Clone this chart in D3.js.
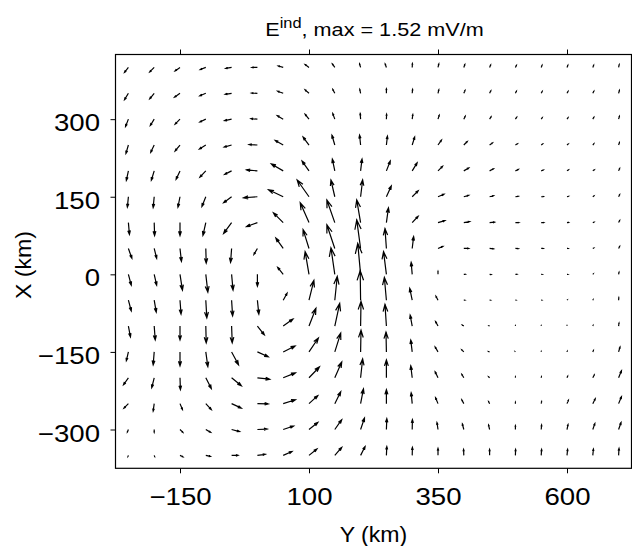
<!DOCTYPE html>
<html>
<head>
<meta charset="utf-8">
<script src="https://cdn.jsdelivr.net/npm/d3@7"></script>
<style>
  body { margin: 0; background: #fff; }
  svg { display: block; font-family: "Liberation Sans", Arial, sans-serif; }
</style>
</head>
<body>
<svg id="chart" width="632" height="546"></svg>
<script>
// grid of the vector field (km): columns along Y, rows along X (top to bottom)
const yGrid = [-250, -200, -150, -100, -50, 0, 50, 100, 150, 200, 250, 300, 350, 400, 450, 500, 550, 600, 650, 700];
const xGrid = [400, 350, 300, 250, 200, 150, 100, 50, 0, -50, -100, -150, -200, -250, -300, -350];
const yTicks = [-150, 100, 350, 600];
const xTicks = [-300, -150, 0, 150, 300];
const eMax = 1.52; // mV/m

// E_ind component along Y (horizontal), mV/m, one row per xGrid value
const eY = [
  [-0.19, -0.22, -0.24, -0.27, -0.29, -0.27, -0.24, -0.19, -0.12, -0.05, -0.06, 0.01, 0.04, 0.05, 0.05, 0.05, 0.04, 0.04, 0.04, 0.03],
  [-0.19, -0.22, -0.27, -0.29, -0.31, -0.29, -0.27, -0.19, -0.10, -0.04, 0, 0.02, 0.04, 0.06, 0.06, 0.05, 0.05, 0.05, 0.05, 0.04],
  [-0.14, -0.19, -0.24, -0.29, -0.34, -0.31, -0.29, -0.19, -0.10, -0.02, 0.01, 0.03, 0.06, 0.07, 0.07, 0.06, 0.05, 0.05, 0.05, 0.04],
  [-0.12, -0.17, -0.24, -0.31, -0.36, -0.41, -0.39, -0.29, -0.14, -0.05, 0.05, 0.12, 0.17, 0.17, 0.14, 0.10, 0.07, 0.06, 0.05, 0.04],
  [-0.10, -0.14, -0.19, -0.29, -0.34, -0.53, -0.58, -0.34, -0.12, 0.07, 0.19, 0.24, 0.22, 0.24, 0.19, 0.14, 0.10, 0.07, 0.07, 0.05],
  [-0.05, -0.05, -0.10, -0.19, -0.39, -0.68, -0.72, -0.58, -0.19, 0.10, 0.24, 0.29, 0.29, 0.24, 0.19, 0.14, 0.10, 0.07, 0.05, 0.05],
  [0.05, 0.02, 0, -0.14, -0.39, -0.53, -0.48, -0.43, -0.39, -0.19, 0.10, 0.29, 0.34, 0.29, 0.24, 0.17, 0.12, 0.07, 0.05, 0.05],
  [0.17, 0.12, 0.07, 0.02, -0.05, -0.17, -0.36, -0.29, -0.39, -0.19, -0.07, 0.07, 0.24, 0.24, 0.19, 0.14, 0.10, 0.05, 0.04, 0.05],
  [0.14, 0.12, 0.12, 0.10, 0.07, 0, -0.27, -0.19, -0.19, -0.14, -0.14, -0.05, 0, 0.07, 0.07, 0.07, 0.05, 0.04, 0.02, 0.02],
  [0.14, 0.10, 0.05, 0.05, 0.05, 0.07, 0.19, 0.24, 0.12, -0.02, -0.10, -0.12, -0.10, 0.05, 0.04, 0.02, 0.02, 0.01, 0.01, 0.01],
  [0.10, 0.05, 0, 0.02, 0.03, 0.34, 0.48, 0.34, 0.24, 0.02, -0.07, -0.10, -0.12, -0.07, -0.02, 0, 0, 0, 0.01, 0.02],
  [-0.10, -0.05, 0, 0.10, 0.34, 0.53, 0.58, 0.46, 0.29, 0.02, -0.02, -0.07, -0.14, -0.10, -0.05, -0.01, 0, 0.01, 0.03, 0.07],
  [-0.24, -0.12, 0.02, 0.27, 0.48, 0.60, 0.60, 0.51, 0.34, 0.10, 0, -0.07, -0.14, -0.10, -0.05, 0, 0.01, 0.03, 0.07, 0.14],
  [-0.22, -0.05, 0.12, 0.27, 0.48, 0.53, 0.60, 0.43, 0.29, 0.14, 0, -0.05, -0.12, -0.10, -0.05, 0, 0.02, 0.07, 0.12, 0.14],
  [-0.05, 0, 0.14, 0.24, 0.39, 0.48, 0.51, 0.43, 0.34, 0.19, 0.02, 0.01, -0.05, -0.07, -0.05, 0, 0.02, 0.05, 0.10, 0.12],
  [-0.02, 0.02, 0.14, 0.22, 0.31, 0.39, 0.43, 0.39, 0.34, 0.22, 0.02, 0.01, 0, -0.01, 0, 0.01, 0.02, 0.03, 0.03, 0.02]
];

// E_ind component along X (vertical), mV/m
const eX = [
  [-0.24, -0.22, -0.17, -0.10, -0.05, 0, 0.07, 0.14, 0.17, 0.17, 0.17, 0.19, 0.17, 0.14, 0.12, 0.10, 0.10, 0.10, 0.10, 0.14],
  [-0.31, -0.27, -0.19, -0.12, -0.05, 0.01, 0.10, 0.17, 0.19, 0.19, 0.22, 0.19, 0.17, 0.14, 0.12, 0.10, 0.09, 0.09, 0.10, 0.14],
  [-0.36, -0.31, -0.24, -0.14, -0.07, 0.02, 0.17, 0.24, 0.27, 0.27, 0.24, 0.22, 0.19, 0.14, 0.11, 0.09, 0.07, 0.07, 0.09, 0.14],
  [-0.41, -0.36, -0.29, -0.19, -0.10, 0.02, 0.22, 0.39, 0.48, 0.48, 0.43, 0.39, 0.24, 0.17, 0.10, 0.06, 0.05, 0.05, 0.06, 0.12],
  [-0.46, -0.46, -0.41, -0.31, -0.17, 0.05, 0.34, 0.48, 0.58, 0.58, 0.48, 0.39, 0.22, 0.14, 0.10, 0.07, 0.04, 0.05, 0.05, 0.12],
  [-0.51, -0.53, -0.51, -0.48, -0.29, -0.05, 0.34, 0.82, 0.82, 0.82, 0.53, 0.29, 0.12, 0.07, 0.05, 0.02, 0.01, 0.02, 0.04, 0.10],
  [-0.58, -0.63, -0.63, -0.63, -0.53, -0.19, 0.48, 0.97, 1.11, 1.11, 0.72, 0.31, 0.10, 0.05, 0.02, 0, 0, 0.01, 0.02, 0.10],
  [-0.48, -0.48, -0.63, -0.72, -0.68, -0.29, 0.51, 0.92, 1.16, 1.40, 0.97, 0.58, 0.10, 0, -0.02, -0.01, 0, 0, 0.02, 0.10],
  [-0.53, -0.53, -0.77, -0.87, -0.77, -0.58, 0.34, 1.11, 1.30, 1.51, 1.11, 0.58, 0.14, 0, -0.01, 0, 0, 0, 0.02, 0.10],
  [-0.53, -0.58, -0.68, -0.87, -0.77, -0.68, 0.34, 0.97, 1.16, 1.45, 1.11, 0.58, 0.19, 0, 0, 0, 0, 0.01, 0.02, 0.12],
  [-0.53, -0.68, -0.68, -0.82, -0.82, -0.43, 0.34, 0.87, 1.11, 1.21, 1.06, 0.53, 0.22, 0.05, 0.01, 0.01, 0.01, 0.01, 0.03, 0.14],
  [-0.43, -0.63, -0.68, -0.72, -0.63, -0.24, 0.29, 0.68, 0.92, 1.06, 0.97, 0.58, 0.24, 0.10, 0.02, 0.01, 0.01, 0.03, 0.07, 0.24],
  [-0.34, -0.48, -0.58, -0.53, -0.39, -0.07, 0.24, 0.53, 0.77, 0.92, 0.87, 0.58, 0.29, 0.17, 0.05, 0.04, 0.05, 0.07, 0.14, 0.34],
  [-0.22, -0.36, -0.29, -0.29, -0.22, -0.01, 0.19, 0.39, 0.58, 0.72, 0.68, 0.53, 0.29, 0.19, 0.10, 0.07, 0.10, 0.17, 0.24, 0.34],
  [-0.12, -0.14, -0.14, -0.14, -0.10, 0.02, 0.17, 0.34, 0.48, 0.56, 0.53, 0.48, 0.34, 0.27, 0.22, 0.19, 0.22, 0.24, 0.29, 0.34],
  [-0.05, -0.05, -0.07, -0.05, 0, 0.05, 0.19, 0.31, 0.39, 0.43, 0.43, 0.39, 0.34, 0.29, 0.29, 0.29, 0.29, 0.29, 0.31, 0.34]
];

const svg = d3.select("#chart");

const x = d3.scaleLinear().domain([-275, 725]).range([115.5, 631.5]);
const y = d3.scaleLinear().domain([-375, 425]).range([468.3, 54.5]);
// arrow length in km for a field value in mV/m
const len = d3.scaleLinear().domain([0, eMax]).range([0, 60]);

// flatten the grid into vectors
const vectors = [];
xGrid.forEach((xv, i) => {
  yGrid.forEach((yv, j) => {
    vectors.push({ yv: yv, xv: xv, ey: eY[i][j], ex: eX[i][j] });
  });
});

// quiver arrow: shaft plus open head (matlab style)
function arrowPath(d) {
  const x0 = x(d.yv), y0 = y(d.xv);
  const x1 = x(d.yv + len(d.ey)), y1 = y(d.xv + len(d.ex));
  const dx = x1 - x0, dy = y1 - y0;
  const a = 0.33, b = 0.33;
  const p = d3.path();
  p.moveTo(x0, y0);
  p.lineTo(x1, y1);
  p.moveTo(x1 - a * (dx + b * dy), y1 - a * (dy - b * dx));
  p.lineTo(x1, y1);
  p.lineTo(x1 - a * (dx - b * dy), y1 - a * (dy + b * dx));
  return p.toString();
}

svg.append("g")
  .selectAll("path")
  .data(vectors)
  .enter()
  .append("path")
  .attr("d", arrowPath)
  .attr("fill", "none")
  .attr("stroke", "#000")
  .attr("stroke-width", 1.2);

// axes, ticks pointing out on all four sides
const tickScale = 1.15;
const bottom = svg.append("g")
  .attr("transform", "translate(0," + y.range()[0] + ")")
  .call(d3.axisBottom(x).tickValues(yTicks).tickSize(5).tickPadding(15));
bottom.selectAll("text").attr("transform", "scale(" + tickScale + ",1)");

const left = svg.append("g")
  .attr("transform", "translate(" + x.range()[0] + ",0)")
  .call(d3.axisLeft(y).tickValues(xTicks).tickSize(5).tickPadding(10.5));
left.selectAll("text")
  .attr("x", -15.5 / tickScale)
  .attr("dy", "0.48em")
  .attr("transform", "scale(" + tickScale + ",1)");

svg.append("g")
  .attr("transform", "translate(0," + y.range()[1] + ")")
  .call(d3.axisTop(x).tickValues(yTicks).tickSize(5).tickFormat(""));
svg.append("g")
  .attr("transform", "translate(" + x.range()[1] + ",0)")
  .call(d3.axisRight(y).tickValues(xTicks).tickSize(5).tickFormat(""));

svg.selectAll(".domain").remove();
svg.selectAll(".tick line").attr("stroke", "#000");
svg.selectAll(".tick text")
  .attr("font-size", 24)
  .attr("fill", "#000")
  .attr("font-family", "Liberation Sans, Arial, sans-serif");

// box
svg.append("rect")
  .attr("x", x.range()[0])
  .attr("y", y.range()[1])
  .attr("width", x.range()[1] - x.range()[0])
  .attr("height", y.range()[0] - y.range()[1])
  .attr("fill", "none")
  .attr("stroke", "#000")
  .attr("stroke-width", 1.2);

// title
const title = svg.append("text")
  .attr("transform", "translate(374.5,36) scale(1.17,1)")
  .attr("text-anchor", "middle")
  .attr("font-size", 18.5);
title.append("tspan").text("E");
title.append("tspan").attr("dy", -8.5).attr("font-size", 14).text("ind");
title.append("tspan").attr("dy", 8.5).text(", max = " + eMax + " mV/m");

// axis labels
svg.append("text")
  .attr("transform", "translate(373.5,541.5) scale(1.05,1)")
  .attr("text-anchor", "middle")
  .attr("font-size", 22)
  .text("Y (km)");

svg.append("text")
  .attr("transform", "translate(31,265) rotate(-90) scale(1.05,1)")
  .attr("text-anchor", "middle")
  .attr("font-size", 22)
  .text("X (km)");
</script>
</body>
</html>
